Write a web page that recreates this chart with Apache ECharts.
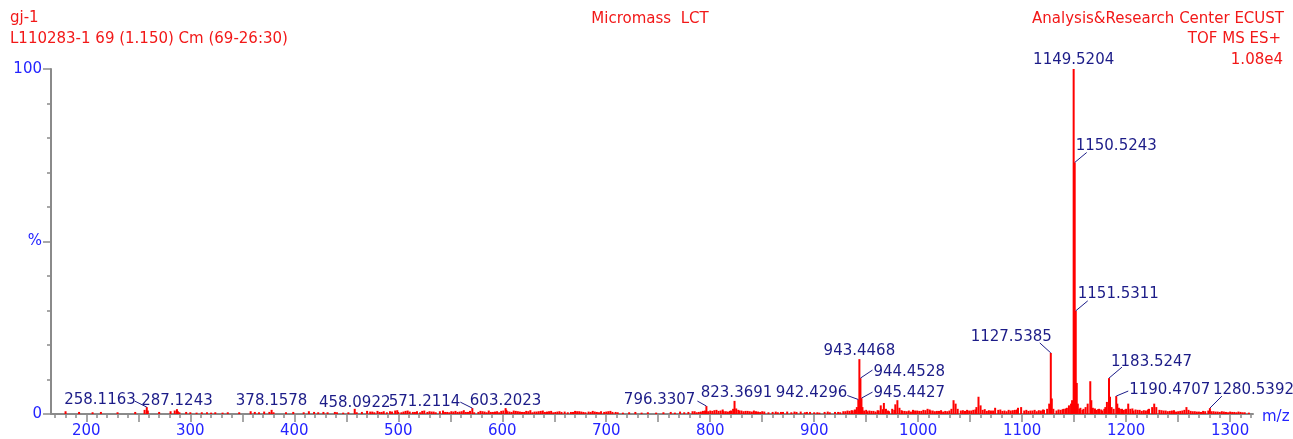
<!DOCTYPE html>
<html>
<head>
<meta charset="utf-8">
<script src="https://cdn.jsdelivr.net/npm/echarts@6/dist/echarts.min.js"></script>
<style>html,body{margin:0;padding:0;background:#fff}#chart{width:1293px;height:439px}</style>
</head>
<body>
<div id="chart"></div>
<script>
// labelled peaks (m/z, relative intensity %)
var labelMz  = [1149.5204, 1150.5243, 1151.5311, 1127.5385, 1183.5247, 1190.4707, 1280.5392,
                943.4468, 944.4528, 945.4427, 942.4296, 823.3691, 796.3307,
                603.2023, 571.2114, 458.0922, 378.1578, 287.1243, 258.1163];
var labelInt = [100, 72.9, 29.9, 17.7, 10.4, 5.2, 1.7,
                15.9, 10.4, 4.6, 4.2, 3.8, 2.3,
                1.7, 1.7, 1.5, 1.2, 1.4, 2.0];

// unlabelled peaks and baseline noise
var noiseMz = [180, 193, 206, 214, 230, 247, 256, 259.1, 270, 281, 285, 288, 289.5, 296, 300, 306, 311, 316, 320, 324, 331, 336,
  347, 358, 362, 366, 371, 376, 380, 392, 399, 409, 414, 419, 423, 428, 432, 439, 441, 447, 452, 460, 465,
  470, 473, 477, 482, 486, 489, 494, 497, 500, 503, 507, 511, 514, 518, 521, 525, 528, 532, 536, 540, 545, 549,
  553, 557, 561, 565, 569, 573, 577, 581, 585, 589, 593, 597, 601, 605, 609, 613, 617, 621, 625, 629, 633, 637,
  641, 645, 649, 653, 657, 663, 668, 672, 676, 680, 685, 689, 693, 698, 702, 706, 711, 716, 722, 728, 734, 740,
  748, 755, 762, 766, 771, 775, 779, 783, 787, 791, 795, 798, 802, 806, 810, 813, 817, 820, 822, 825, 828, 832,
  836, 840, 844, 848, 852, 856, 860, 865, 870, 874, 878, 883, 887, 891, 896, 900, 905, 910, 915, 920, 925, 930,
  934, 937, 940, 941, 946.4, 948, 951, 955, 959, 962, 964, 967, 969, 972, 975, 978, 980, 982, 985, 989, 993, 997,
  1001, 1005, 1009, 1012, 1016, 1020, 1024, 1028, 1032, 1034, 1036, 1038, 1041, 1045, 1049, 1053, 1056, 1058,
  1060, 1062, 1066, 1070, 1074, 1077, 1081, 1085, 1089, 1093, 1096, 1099, 1102, 1106, 1110, 1114, 1118, 1121,
  1124, 1126, 1128.5, 1130, 1133, 1137, 1140, 1143, 1145, 1147, 1148, 1152.5, 1153.5, 1155, 1158, 1161, 1163,
  1165.5, 1166.5, 1168, 1171, 1174, 1177, 1180, 1181.5, 1184.5, 1186, 1188, 1191.5, 1194, 1197, 1200, 1202,
  1204, 1207, 1211, 1215, 1219, 1222, 1225, 1227, 1229, 1232, 1236, 1240, 1244, 1248, 1252, 1256, 1258, 1260,
  1264, 1268, 1272, 1276, 1279, 1282, 1286, 1290, 1294, 1298, 1302, 1306, 1310, 1314, 1318];
var noiseInt = [0.8, 0.6, 0.5, 0.6, 0.5, 0.6, 1.2, 1.0, 0.6, 0.8, 1.0, 0.8, 0.5, 0.6, 0.5, 0.4, 0.5, 0.5, 0.4, 0.5, 0.4, 0.5,
  0.5, 0.8, 0.6, 0.5, 0.7, 0.6, 0.5, 0.5, 0.6, 0.5, 0.8, 0.6, 0.5, 0.6, 0.5, 0.6, 0.5, 0.4, 0.5, 0.5, 0.6,
  0.9, 0.7, 0.5, 0.6, 0.8, 0.5, 0.7, 1.0, 0.6, 0.5, 0.9, 0.7, 0.6, 0.8, 0.5, 1.0, 0.6, 0.7, 0.5, 0.8, 0.6, 0.5,
  0.7, 0.6, 0.8, 0.6, 0.9, 0.5, 0.6, 0.8, 0.5, 0.6, 0.7, 0.5, 1.0, 0.8, 0.6, 0.9, 0.7, 0.6, 0.8, 0.5, 0.7, 0.9,
  0.6, 0.8, 0.5, 0.7, 0.6, 0.5, 0.6, 0.8, 0.7, 0.5, 0.6, 0.7, 0.5, 0.6, 0.8, 0.6, 0.5, 0.4, 0.5, 0.6, 0.4, 0.5,
  0.4, 0.5, 0.6, 0.4, 0.7, 0.5, 0.6, 0.8, 0.5, 0.7, 1.0, 0.8, 0.9, 1.2, 1.0, 0.8, 0.7, 1.0, 1.5, 1.6, 1.0, 0.8,
  0.9, 0.7, 0.8, 0.6, 0.7, 0.5, 0.6, 0.5, 0.6, 0.7, 0.5, 0.6, 0.7, 0.5, 0.6, 0.5, 0.4, 0.6, 0.5, 0.6, 0.5, 0.8,
  0.9, 1.0, 1.2, 2.0, 2.0, 1.0, 0.8, 0.9, 0.7, 1.0, 2.5, 3.2, 1.5, 0.8, 1.5, 2.8, 4.0, 1.8, 0.9, 0.8, 0.7, 1.0,
  0.9, 1.2, 1.5, 1.0, 0.8, 0.9, 0.7, 0.8, 1.5, 4.0, 3.0, 1.5, 1.0, 0.9, 1.0, 1.2, 2.0, 5.0,
  2.5, 1.2, 0.9, 1.0, 1.8, 1.2, 0.9, 0.8, 1.0, 1.2, 1.8, 2.0, 1.0, 0.9, 1.0, 0.8, 1.0, 1.2,
  1.5, 3.0, 4.5, 1.5, 1.0, 1.2, 1.5, 1.8, 2.5, 3.0, 4.0, 9.0, 3.0, 1.5, 1.2, 2.0, 3.0,
  9.5, 4.0, 1.8, 1.2, 1.5, 1.0, 2.0, 3.5, 5.0, 2.0, 1.5, 3.0, 1.5, 1.2, 1.5, 3.0,
  1.5, 1.0, 1.2, 0.9, 1.0, 1.5, 2.0, 3.0, 2.0, 1.2, 1.0, 0.8, 1.0, 0.7, 0.9, 1.2, 2.0, 1.2,
  0.8, 0.7, 0.6, 0.8, 1.0, 0.8, 0.7, 0.6, 0.7, 0.5, 0.6, 0.5, 0.6, 0.5, 0.4];

// more baseline noise, in between the above
var noise2Mz = [475, 480, 484, 492, 499, 505, 509, 516, 523, 530, 534, 543, 547, 551, 555, 559, 563, 567,
  579, 583, 587, 591, 595, 599, 603.9, 607, 611, 615, 619, 623, 627, 631, 635, 639, 643, 647, 651, 655,
  660, 666, 670, 674, 678, 683, 687, 691, 695, 700, 704, 709,
  785, 789, 793, 800, 804, 808, 812, 815, 819, 827, 830, 834, 838, 842, 846, 850,
  863, 868, 881, 893, 903, 913, 923, 928, 932, 936, 939,
  950, 953, 957, 961, 966, 971, 977, 984, 987, 991, 995, 999, 1003, 1007, 1011, 1014, 1018, 1022, 1026, 1030,
  1043, 1047, 1051, 1055, 1064, 1068, 1072, 1079, 1083, 1087, 1091, 1095, 1104, 1108, 1112, 1116, 1120,
  1135, 1139, 1142, 1156, 1159, 1170, 1173, 1176, 1179, 1193, 1196, 1199, 1206, 1209, 1213, 1217, 1221,
  1234, 1238, 1242, 1246, 1250, 1254, 1262, 1266, 1270, 1274, 1284, 1288, 1292, 1296, 1300, 1304, 1308, 1312];
var noise2Int = [0.7, 0.9, 0.6, 0.8, 1.1, 0.7, 1.0, 0.6, 0.9, 0.8, 0.7, 1.0, 0.6, 0.8, 0.9, 0.7, 1.1, 0.6,
  0.9, 0.7, 1.0, 0.6, 0.8, 0.9, 1.2, 0.7, 1.0, 0.8, 0.6, 0.9, 1.1, 0.7, 0.8, 1.0, 0.7, 0.9, 0.6, 0.8,
  0.7, 0.6, 0.9, 0.8, 0.6, 0.7, 0.9, 0.6, 0.8, 0.7, 0.9, 0.6,
  0.8, 0.6, 0.9, 1.0, 1.1, 0.9, 1.3, 0.8, 0.9, 1.2, 1.0, 0.9, 0.8, 1.0, 0.7, 0.8,
  0.7, 0.6, 0.7, 0.6, 0.5, 0.7, 0.6, 0.8, 1.0, 1.1, 1.3,
  1.2, 1.0, 0.9, 1.1, 1.4, 1.0, 1.2, 1.1, 0.9, 1.0, 1.2, 1.0, 0.9, 1.1, 1.3, 1.0, 0.9, 1.1, 0.9, 1.0,
  1.1, 1.2, 1.0, 1.3, 1.4, 1.1, 1.0, 1.3, 1.0, 1.2, 1.1, 1.3, 1.2, 1.0, 1.2, 1.1, 1.3,
  1.3, 1.4, 1.6, 1.8, 1.5, 1.6, 1.4, 1.3, 1.5, 1.8, 1.5, 1.3, 1.6, 1.3, 1.2, 1.1, 1.3,
  1.1, 1.0, 0.9, 1.1, 0.8, 1.0, 0.9, 0.8, 0.7, 0.9, 0.8, 0.7, 0.8, 0.6, 0.7, 0.6, 0.7, 0.5];

var xLabelValues = [200, 300, 400, 500, 600, 700, 800, 900, 1000, 1100, 1200, 1300];

// label placement: [textDx, textDy, align, leaderDx, leaderDy]
var LABEL_LAYOUT = [
  [0, -9, 'center'],
  [1, -16, 'left', 12, -10],
  [2, -17, 'left', 12, -10],
  [1, -16, 'right', -11, -10],
  [2, -16, 'left', 13, -11],
  [13, -6, 'left', 12, -5],
  [3, -18, 'left', 12, -12],
  [0, -8, 'center'],
  [13, -6, 'left', 12, -8],
  [12, -5, 'left', 11, -6],
  [-11, -6, 'right', -11, -4],
  [2, -8, 'center'],
  [-11, -6, 'right', -9, -5],
  [0, -7, 'center'],
  [-12, -6, 'right', -12, -6],
  [0, -6, 'center'],
  [0, -9, 'center'],
  [0, -8, 'center'],
  [-11, -7, 'right', -12, -6]
];

var RED = '#f21818', BLUE = '#2424ff', NAVY = '#1c1c88', GREY = '#8a8a8a';
var FONT = '"DejaVu Sans"';

var peaks = [];
for (var i = 0; i < noiseMz.length; i++) peaks.push([noiseMz[i], noiseInt[i]]);
for (var n = 0; n < noise2Mz.length; n++) peaks.push([noise2Mz[n], noise2Int[n]]);
for (var j = 0; j < labelMz.length; j++) peaks.push([labelMz[j], labelInt[j]]);
peaks.sort(function (a, b) { return a[0] - b[0]; });

var labels = labelMz.map(function (m, k) { return [m, labelInt[k]]; });

var minorTicks = [], majorTicks = [];
for (var t = 170; t <= 1320; t += 10) minorTicks.push(t);
for (var t2 = 200; t2 <= 1300; t2 += 50) majorTicks.push(t2);

var chart = echarts.init(document.getElementById('chart'));

function header(text, x, y, align) {
  return { type: 'text', x: x, y: y, style: { text: text, fill: RED, font: '15px ' + FONT, align: align, verticalAlign: 'middle' } };
}

var option = {
  animation: false,
  backgroundColor: '#fff',
  grid: { left: 51, right: 40, top: 69, bottom: 25, containLabel: false, outerBoundsMode: 'none' },
  graphic: [
    header('gj-1', 10, 18, 'left'),
    header('L110283-1 69 (1.150) Cm (69-26:30)', 10, 39, 'left'),
    header('Micromass  LCT', 650, 19, 'center'),
    header('Analysis&Research Center ECUST', 1284, 19, 'right'),
    header('TOF MS ES+', 1281, 39, 'right'),
    header('1.08e4', 1283, 60, 'right')
  ],
  xAxis: [{
    type: 'value', min: 166, max: 1322, position: 'bottom',
    name: 'm/z', nameLocation: 'end', nameGap: 9,
    nameTextStyle: { color: BLUE, fontFamily: FONT, fontSize: 15, verticalAlign: 'top', lineHeight: 6 },
    axisLine: { lineStyle: { color: GREY, width: 2 } },
    axisTick: { customValues: minorTicks, length: 4, lineStyle: { color: GREY, width: 1.5 } },
    axisLabel: {
      customValues: xLabelValues, color: BLUE, fontFamily: FONT, fontSize: 15, margin: 10,
      formatter: function (v) { return String(v); }
    },
    splitLine: { show: false }
  }, {
    type: 'value', min: 166, max: 1322, position: 'bottom', offset: 0,
    axisLine: { show: false },
    axisTick: { customValues: majorTicks, length: 8, lineStyle: { color: GREY, width: 1.5 } },
    axisLabel: { show: false },
    splitLine: { show: false }
  }],
  yAxis: [{
    type: 'value', min: 0, max: 100, interval: 10, position: 'left',
    axisLine: { show: true, lineStyle: { color: GREY, width: 2 } },
    axisTick: { show: true, length: 4, lineStyle: { color: GREY, width: 1.5 } },
    axisLabel: { show: false },
    splitLine: { show: false }
  }, {
    type: 'value', min: 0, max: 100, interval: 50, position: 'left', offset: 0,
    axisLine: { show: false },
    axisTick: { show: true, length: 8, lineStyle: { color: GREY, width: 1.5 } },
    axisLabel: {
      color: BLUE, fontFamily: FONT, fontSize: 15, margin: 9,
      formatter: function (v) { return v === 50 ? '%' : String(v); }
    },
    splitLine: { show: false }
  }],
  series: [{
    type: 'bar',
    xAxisIndex: 0, yAxisIndex: 0,
    barWidth: 2,
    itemStyle: { color: '#ff0000' },
    data: peaks
  }, {
    type: 'custom',
    xAxisIndex: 0, yAxisIndex: 0,
    z: 5,
    data: labels,
    renderItem: function (params, api) {
      var p = api.coord([api.value(0), api.value(1)]);
      var L = LABEL_LAYOUT[params.dataIndex];
      var children = [{
        type: 'text',
        style: {
          text: api.value(0).toFixed(4), x: p[0] + L[0], y: p[1] + L[1],
          fill: NAVY, font: '15px ' + FONT, align: L[2], verticalAlign: 'middle'
        }
      }];
      if (L.length > 3) {
        children.push({
          type: 'line',
          shape: { x1: p[0], y1: p[1], x2: p[0] + L[3], y2: p[1] + L[4] },
          style: { stroke: NAVY, lineWidth: 1 }
        });
      }
      return { type: 'group', children: children };
    }
  }]
};
chart.setOption(option);
</script>
</body>
</html>
